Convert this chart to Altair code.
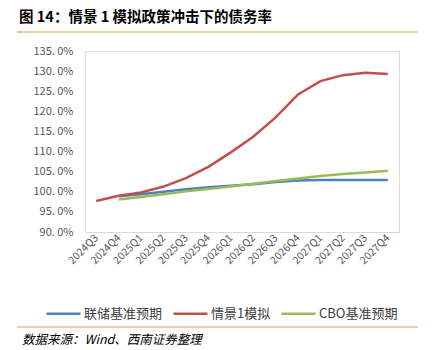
import altair as alt
import pandas as pd

quarters = ["2024Q3", "2024Q4", "2025Q1", "2025Q2", "2025Q3", "2025Q4", "2026Q1",
            "2026Q2", "2026Q3", "2026Q4", "2027Q1", "2027Q2", "2027Q3", "2027Q4"]
fed_base = [None, 98.9, 99.4, 100.0, 100.6, 101.1, 101.5, 101.9, 102.4, 102.8, 102.9, 102.9, 102.9, 102.9]
scenario1 = [97.7, 99.0, 99.8, 101.3, 103.4, 106.2, 109.8, 113.7, 118.5, 124.2, 127.5, 129.0, 129.6, 129.3]
cbo_base = [None, 98.1, 98.7, 99.4, 100.1, 100.7, 101.3, 102.0, 102.7, 103.3, 103.9, 104.4, 104.8, 105.2]

series_names = ["联储基准预期", "情景1模拟", "CBO基准预期"]
series_colors = ["#4F81BD", "#C0504D", "#9BBB59"]

rows = []
for name, vals in zip(series_names, [fed_base, scenario1, cbo_base]):
    for q, v in zip(quarters, vals):
        if v is not None:
            rows.append({"季度": q, "系列": name, "值": v})
df = pd.DataFrame(rows)

FONT = "Noto Sans CJK SC"
one = alt.Data(values=[{"k": 1}])

lines = alt.Chart(df).mark_line(strokeWidth=2.5).encode(
    x=alt.X("季度:N", sort=quarters, title=None,
            scale=alt.Scale(type="point", padding=0.5),
            axis=alt.Axis(labelAngle=-45, labelAlign="right", labelBaseline="middle",
                          labelFontSize=10.5, labelColor="#595959", labelFont=FONT,
                          ticks=False, domainColor="#D9D9D9", domainWidth=1,
                          labelPadding=4, grid=False)),
    y=alt.Y("值:Q", title=None,
            scale=alt.Scale(domain=[90, 135], nice=False, zero=False),
            axis=alt.Axis(values=[90, 95, 100, 105, 110, 115, 120, 125, 130, 135],
                          labelExpr="replace(format(datum.value, '.1f'), '.', '. ') + '%'",
                          labelFontSize=11, labelColor="#595959", labelFont=FONT,
                          ticks=False, domain=False, grid=False, labelPadding=12)),
    color=alt.Color("系列:N", sort=series_names,
                    scale=alt.Scale(domain=series_names, range=series_colors),
                    legend=alt.Legend(title=None, orient="none", direction="horizontal",
                                      legendX=-40, legendY=244, symbolType="stroke",
                                      symbolSize=1156, symbolStrokeWidth=2.5,
                                      labelFontSize=13, labelColor="#404040", labelFont=FONT,
                                      columnPadding=5, labelOffset=2)),
)

title_rule = alt.Chart(one).mark_rule(color="#D9A04A", strokeWidth=1.2).encode(
    x=alt.value(-68), x2=alt.value(333), y=alt.value(-19))
bottom_rule = alt.Chart(one).mark_rule(color="#D9A04A", strokeWidth=1.2).encode(
    x=alt.value(-68), x2=alt.value(333), y=alt.value(276))
source = alt.Chart(one).mark_text(align="left", baseline="middle", fontSize=12.5,
                                  fontStyle="italic", font=FONT, color="#000000").encode(
    x=alt.value(-63), y=alt.value(289), text=alt.value("数据来源：Wind、西南证券整理"))
title = alt.Chart(one).mark_text(align="left", baseline="middle", fontSize=14.5,
                                 fontWeight="bold", font=FONT, color="#000000").encode(
    x=alt.value(-66), y=alt.value(-33), text=alt.value("图 14：情景 1 模拟政策冲击下的债务率"))

chart = alt.layer(lines, title_rule, bottom_rule, source, title).properties(
    width=314, height=181,
    autosize=alt.AutoSizeParams(type="none"),
    padding={"left": 85, "top": 51, "right": 33, "bottom": 118},
).configure_view(stroke=None).configure(background="white")

chart.save("out.html", embed_options={"renderer": "svg", "actions": False})
